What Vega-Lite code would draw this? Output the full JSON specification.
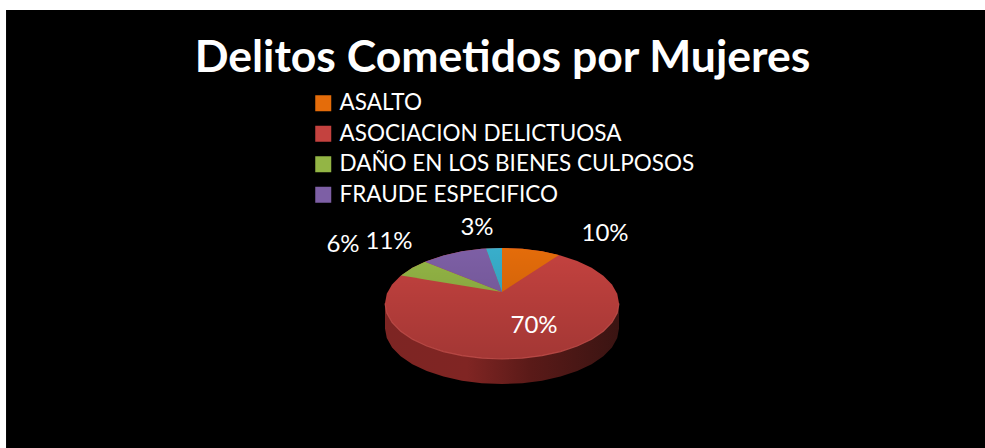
{
"$schema":"https://vega.github.io/schema/vega-lite/v6.json",
"width":985,"height":448,"padding":0,"autosize":{"type":"none"},
"background":"white",
"config":{"view":{"stroke":null},"font":"Lato"},
"title":{"text":"Delitos Cometidos por Mujeres","font":"Lato","fontSize":44.5,"fontWeight":"bold","color":"white","anchor":"middle","frame":"group","baseline":"alphabetic","offset":0,"dy":116,"dx":10},
"datasets":{
"frame":[{"x":-4.239,"x2":4.1282,"y":5.288,"y2":-2.6036}],
"slices":[
{"name":"ASOCIACION DELICTUOSA","x":-1,"y":0,"y2":0},
{"name":"ASOCIACION DELICTUOSA","x":-0.9848,"y":0.1736,"y2":-0.1736},
{"name":"ASOCIACION DELICTUOSA","x":-0.9397,"y":0.342,"y2":-0.342},
{"name":"ASOCIACION DELICTUOSA","x":-0.866,"y":0.5,"y2":-0.5},
{"name":"ASOCIACION DELICTUOSA","x":-0.766,"y":0.6428,"y2":-0.6428},
{"name":"ASOCIACION DELICTUOSA","x":-0.6428,"y":0.766,"y2":-0.766},
{"name":"ASOCIACION DELICTUOSA","x":-0.5,"y":0.866,"y2":-0.866},
{"name":"ASOCIACION DELICTUOSA","x":-0.342,"y":0.9397,"y2":-0.9397},
{"name":"ASOCIACION DELICTUOSA","x":-0.1736,"y":0.9848,"y2":-0.9848},
{"name":"ASOCIACION DELICTUOSA","x":0,"y":1,"y2":-1},
{"name":"ASOCIACION DELICTUOSA","x":0.1736,"y":0.9848,"y2":-0.9848},
{"name":"ASOCIACION DELICTUOSA","x":0.342,"y":0.9397,"y2":-0.9397},
{"name":"ASOCIACION DELICTUOSA","x":0.5,"y":0.866,"y2":-0.866},
{"name":"ASOCIACION DELICTUOSA","x":0.6428,"y":0.766,"y2":-0.766},
{"name":"ASOCIACION DELICTUOSA","x":0.766,"y":0.6428,"y2":-0.6428},
{"name":"ASOCIACION DELICTUOSA","x":0.866,"y":0.5,"y2":-0.5},
{"name":"ASOCIACION DELICTUOSA","x":0.9397,"y":0.342,"y2":-0.342},
{"name":"ASOCIACION DELICTUOSA","x":0.9848,"y":0.1736,"y2":-0.1736},
{"name":"ASOCIACION DELICTUOSA","x":1,"y":0,"y2":0},
{"name":"ASALTO","x":0,"y":1,"y2":0.207},
{"name":"ASALTO","x":0.1736,"y":0.9848,"y2":0.4444},
{"name":"ASALTO","x":0.342,"y":0.9397,"y2":0.6747},
{"name":"ASALTO","x":0.487,"y":0.873,"y2":0.873},
{"name":"DAÑO EN LOS BIENES CULPOSOS","x":-0.863,"y":0.505,"y2":0.505},
{"name":"DAÑO EN LOS BIENES CULPOSOS","x":-0.766,"y":0.6428,"y2":0.4715},
{"name":"DAÑO EN LOS BIENES CULPOSOS","x":-0.658,"y":0.753,"y2":0.4342},
{"name":"DAÑO EN LOS BIENES CULPOSOS","x":0,"y":0.207,"y2":0.207},
{"name":"FRAUDE ESPECIFICO","x":-0.658,"y":0.753,"y2":0.753},
{"name":"FRAUDE ESPECIFICO","x":-0.5,"y":0.866,"y2":0.622},
{"name":"FRAUDE ESPECIFICO","x":-0.342,"y":0.9397,"y2":0.4908},
{"name":"FRAUDE ESPECIFICO","x":-0.1736,"y":0.9848,"y2":0.351},
{"name":"FRAUDE ESPECIFICO","x":-0.137,"y":0.9906,"y2":0.3207},
{"name":"FRAUDE ESPECIFICO","x":0,"y":0.207,"y2":0.207},
{"name":"OTROS","x":-0.137,"y":0.9906,"y2":0.9906},
{"name":"OTROS","x":-0.07,"y":0.9975,"y2":0.607},
{"name":"OTROS","x":0,"y":1,"y2":0.207}
],
"side":[
{"x":-1,"y":0,"y2":-0.45},
{"x":-0.9848,"y":-0.1736,"y2":-0.6236},
{"x":-0.9397,"y":-0.342,"y2":-0.792},
{"x":-0.866,"y":-0.5,"y2":-0.95},
{"x":-0.766,"y":-0.6428,"y2":-1.0928},
{"x":-0.6428,"y":-0.766,"y2":-1.216},
{"x":-0.5,"y":-0.866,"y2":-1.316},
{"x":-0.342,"y":-0.9397,"y2":-1.3897},
{"x":-0.1736,"y":-0.9848,"y2":-1.4348},
{"x":0,"y":-1,"y2":-1.45},
{"x":0.1736,"y":-0.9848,"y2":-1.4348},
{"x":0.342,"y":-0.9397,"y2":-1.3897},
{"x":0.5,"y":-0.866,"y2":-1.316},
{"x":0.6428,"y":-0.766,"y2":-1.216},
{"x":0.766,"y":-0.6428,"y2":-1.0928},
{"x":0.866,"y":-0.5,"y2":-0.95},
{"x":0.9397,"y":-0.342,"y2":-0.792},
{"x":0.9848,"y":-0.1736,"y2":-0.6236},
{"x":1,"y":0,"y2":-0.45}
],
"labels":[
{"label":"10%","x":0.8803,"y":1.2523},
{"label":"70%","x":0.2735,"y":-0.4054},
{"label":"11%","x":-0.9658,"y":1.1081},
{"label":"6%","x":-1.359,"y":1.0541},
{"label":"3%","x":-0.2137,"y":1.3604}
]
},
"layer":[
{"data":{"name":"frame"},"mark":{"type":"rect","fill":"black"},
 "encoding":{
  "x":{"field":"x","type":"quantitative","axis":null,"scale":{"domain":[-4.2906,4.1282],"nice":false,"zero":false}},
  "x2":{"field":"x2"},
  "y":{"field":"y","type":"quantitative","axis":null,"scale":{"domain":[-2.6036,5.4685],"nice":false,"zero":false}},
  "y2":{"field":"y2"}}},
{"data":{"name":"side"},
 "mark":{"type":"area","fill":{"gradient":"linear","x1":0,"y1":0,"x2":1,"y2":0,"stops":[{"offset":0,"color":"#7d2523"},{"offset":0.35,"color":"#802523"},{"offset":0.62,"color":"#5a1a18"},{"offset":1,"color":"#3a1412"}]}},
 "encoding":{"x":{"field":"x","type":"quantitative"},"y":{"field":"y","type":"quantitative"},"y2":{"field":"y2"}}},
{"data":{"name":"slices"},"mark":{"type":"area"},
 "encoding":{"x":{"field":"x","type":"quantitative"},"y":{"field":"y","type":"quantitative"},"y2":{"field":"y2"},
  "color":{"field":"name","type":"nominal","sort":null,
   "scale":{"domain":["ASALTO","ASOCIACION DELICTUOSA","DAÑO EN LOS BIENES CULPOSOS","FRAUDE ESPECIFICO","OTROS"],"range":["#e46c0a","#c4423f","#93b545","#7d5fa5","#38aecb"]},
   "legend":{"values":["ASALTO","ASOCIACION DELICTUOSA","DAÑO EN LOS BIENES CULPOSOS","FRAUDE ESPECIFICO"],"title":null,"orient":"none","legendX":312,"legendY":92,"symbolType":"square","symbolSize":256,"symbolStrokeWidth":0,"labelFontSize":22.5,"labelFont":"Lato","labelColor":"white","labelOffset":5,"rowPadding":7.5,"labelLimit":500}}}},
{"data":{"name":"slices"},"transform":[{"filter":"datum.name==='ASOCIACION DELICTUOSA'"}],
 "mark":{"type":"area","fill":{"gradient":"linear","x1":0,"y1":0,"x2":0,"y2":1,"stops":[{"offset":0,"color":"rgba(0,0,0,0)"},{"offset":1,"color":"rgba(0,0,0,0.17)"}]}},
 "encoding":{"x":{"field":"x","type":"quantitative"},"y":{"field":"y","type":"quantitative"},"y2":{"field":"y2"}}},
{"data":{"name":"side"},"mark":{"type":"line","stroke":"#c4504c","strokeWidth":1.2,"opacity":0.8},
 "encoding":{"x":{"field":"x","type":"quantitative"},"y":{"field":"y","type":"quantitative"}}},
{"data":{"name":"labels"},"mark":{"type":"text","font":"Lato","fontSize":24,"color":"white","align":"center","baseline":"middle"},
 "encoding":{"x":{"field":"x","type":"quantitative"},"y":{"field":"y","type":"quantitative"},"text":{"field":"label"}}}
]
}
